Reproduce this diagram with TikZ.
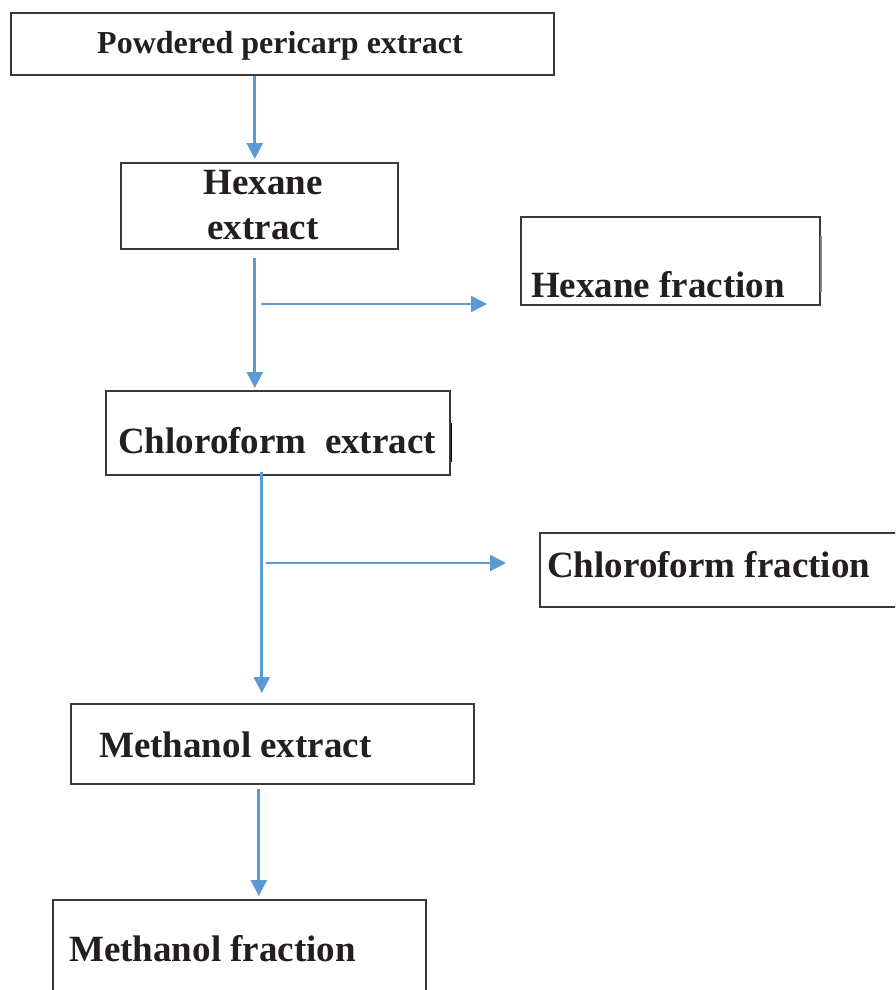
\documentclass[tikz,border=0pt]{standalone}
\usepackage{fontspec}
\setmainfont{Liberation Serif}
\usetikzlibrary{arrows.meta}

\definecolor{flowblue}{HTML}{5B9BD5}
\definecolor{boxgray}{HTML}{3A3A3A}
\definecolor{inkblack}{HTML}{231F20}

\tikzset{
    box/.style={draw=boxgray, line width=1.6pt, rectangle, inner sep=0pt, anchor=north west},
    lbl/.style={inner sep=0pt, anchor=base west, text=inkblack, font=\bfseries\fontsize{37}{45}\selectfont},
    flow/.style={draw=flowblue, line width=2.8pt, -{Triangle[length=16pt,width=16pt]}}
}

\begin{document}
\begin{tikzpicture}[x=1pt, y=-1pt]
    \useasboundingbox (0,0) rectangle (895,990);
    \clip (0,0) rectangle (895,990);

    % Boxes
    \node[box, minimum width=543pt, minimum height=62pt] (powder) at (10,12) {};
    \node[box, minimum width=277pt, minimum height=86pt] (hexext) at (120,162) {};
    \node[box, minimum width=299pt, minimum height=88pt] (hexfrac) at (520,216) {};
    \node[box, minimum width=344pt, minimum height=84pt] (chlext) at (105,390) {};
    \node[box, minimum width=370pt, minimum height=74pt] (chlfrac) at (539,532) {};
    \node[box, minimum width=403pt, minimum height=80pt] (methext) at (70,703) {};
    \node[box, minimum width=373pt, minimum height=110pt] (methfrac) at (52,899) {};

    % stray border marks
    \draw[gray, line width=2pt] (821,236) -- (821,292);
    \draw[black, line width=1pt] (451,423) -- (451,462);

    % Labels
    \node[lbl, font=\bfseries\fontsize{32}{38}\selectfont] (powdertxt) at (97,53) {Powdered pericarp extract};
    \node[lbl, anchor=base] (hexexttxt) at (263,194) {Hexane};
    \node[lbl, anchor=base] (hexexttxtb) at (263,239) {extract};
    \node[lbl] (hexfractxt) at (531,297) {Hexane fraction};
    \node[lbl] (chlexttxt) at (118,453) {Chloroform\ \ extract};
    \node[lbl] (chlfractxt) at (547,577) {Chloroform fraction};
    \node[lbl] (methexttxt) at (99,757) {Methanol extract};
    \node[lbl] (methfractxt) at (69,961) {Methanol fraction};

    % Main line
    \draw[flow, shorten >=3pt] ([xshift=-27.5pt]powder.south) -- ([xshift=-4.5pt]hexext.north);
    \draw[flow, shorten <=8pt, shorten >=2pt] ([xshift=-4.5pt]hexext.south) -- ([xshift=-23pt]chlext.north);
    \draw[flow, shorten >=10pt] ([xshift=-16pt, yshift=4pt]chlext.south) -- ([xshift=-10.5pt]methext.north);
    \draw[flow, shorten <=4pt, shorten >=3pt] ([xshift=-13.5pt]methext.south) -- ([xshift=19.5pt]methfrac.north);

    % Side branches
    \coordinate (hsplit) at (261,304);
    \coordinate (csplit) at (266,563);
    \draw[flow, shorten >=33pt] (hsplit) -- (hsplit -| hexfrac.west);
    \draw[flow, shorten >=33pt] (csplit) -- (csplit -| chlfrac.west);
\end{tikzpicture}
\end{document}
